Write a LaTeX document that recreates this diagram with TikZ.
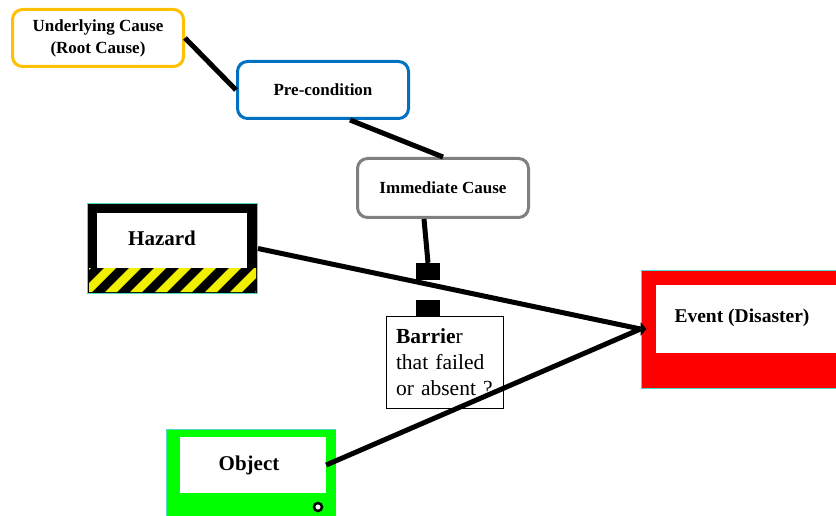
\documentclass[tikz,border=0pt]{standalone}
\usepackage{fontspec}
\setmainfont{Liberation Serif}
\definecolor{rootorange}{HTML}{FFC000}
\definecolor{preblue}{HTML}{0070C0}
\definecolor{immgray}{HTML}{808080}
\definecolor{edgeteal}{HTML}{4DDBC4}
\definecolor{eventred}{HTML}{FF0000}
\definecolor{objgreen}{HTML}{00FF00}
\definecolor{stripeyellow}{HTML}{F0F000}
\begin{document}
\begin{tikzpicture}[x=1pt,y=-1pt,
  causebox/.style={draw, line width=3pt, rounded corners=10pt, fill=white,
    minimum width=171pt, minimum height=57pt, inner sep=0pt, align=center,
    font=\fontsize{17}{22}\selectfont\bfseries},
  pane/.style={fill=white, inner sep=0pt},
  biglabel/.style={inner sep=0pt, font=\fontsize{21}{25}\selectfont\bfseries},
  stopblock/.style={fill=black, minimum width=24pt, minimum height=17pt, inner sep=0pt},
  link/.style={line width=5pt},
  frame/.style={draw=edgeteal, line width=1pt, inner sep=0pt}]
\clip (0,0) rectangle (836,516);

% causal chain
\node[causebox, draw=rootorange] (root) at (98,38) {Underlying Cause\\(Root Cause)};
\node[causebox, draw=preblue] (pre) at (323,90) {Pre-condition};
\node[causebox, draw=immgray, minimum height=59pt] (imm) at (443,188) {Immediate Cause};

% barrier box
\node[draw, line width=0.8pt, fill=white, minimum width=117pt, minimum height=92pt,
      text width=97pt, inner sep=0pt, align=left,
      font=\fontsize{21.5}{26}\selectfont] (bar) at (444.5,362)
      {\textbf{Barrie}r\\that failed\\or absent ?};
\node[stopblock] (stopA) at (428,271.5) {};
\node[stopblock] (stopB) at (428,308.5) {};

% hazard sign
\fill[black] (88,204.5) rectangle (257,293.5);
\begin{scope}
  \clip (89,268) rectangle (256,292);
  \foreach \x in {55,80,...,280}
    \fill[stripeyellow] (\x,292) -- (\x+12,292) -- (\x+36,268) -- (\x+24,268) -- cycle;
\end{scope}
\node[pane, minimum width=150pt, minimum height=55pt] (hazpane) at (172,240.5) {};
\node[biglabel] (hazlbl) at (162,238) {Hazard};
\node[frame, minimum width=170pt, minimum height=90pt] (haz) at (172.5,248.5) {};

% event
\node[frame, fill=eventred, minimum width=209pt, minimum height=118pt] (ev) at (745.5,329) {};
\node[pane, minimum width=200pt, minimum height=68pt] (evpane) at (756,319) {};
\node[biglabel, font=\fontsize{19.5}{24}\selectfont\bfseries] (evlbl) at (742,318) {Event (Disaster)};

% object
\fill[objgreen] (167,430) rectangle (336,520);
\draw[edgeteal, line width=1pt] (166.5,520) -- (166.5,429.5) -- (336,429.5);
\node[pane, minimum width=146pt, minimum height=56pt, biglabel, inner sep=0pt] (obj) at (253,465) {\hspace*{-8pt}Object};
\node[circle, draw=black, line width=2.5pt, fill=white, minimum size=8pt, inner sep=0pt] (knob) at (318,507) {};

% connectors
\draw[link] (root.east) -- (pre.west);
\draw[link] ([xshift=27pt]pre.south) -- (imm.north);
\draw[link] ([xshift=-19pt]imm.south) -- (stopA.north);
\draw[link] (haz.east) -- (ev.west);
\draw[link] (obj.east) -- (ev.west);
\fill (ev.west) ++(0,-7) -- ++(6,7) -- ++(-6,7) -- cycle;
\end{tikzpicture}
\end{document}
